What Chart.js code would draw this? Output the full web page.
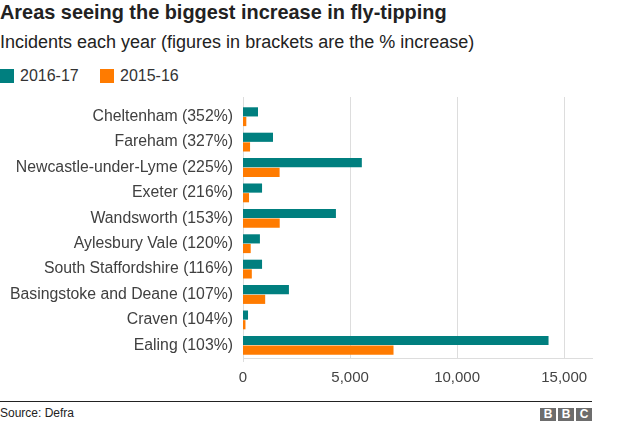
<!DOCTYPE html>
<html>
<head>
<meta charset="utf-8">
<script src="https://cdn.jsdelivr.net/npm/chart.js@4"></script>
<style>
  html, body { margin: 0; padding: 0; background: #fff; }
  body { width: 624px; height: 426px; position: relative; overflow: hidden; font-family: "Liberation Sans", Arial, Helvetica, sans-serif; color: #222; }
  #title { position: absolute; left: 0; top: 1px; font-size: 19.9px; font-weight: bold; color: #222; white-space: nowrap; }
  #subtitle { position: absolute; left: 0; top: 32px; font-size: 18px; color: #222; white-space: nowrap; }
  .leg { position: absolute; top: 67px; font-size: 16px; color: #333; white-space: nowrap; line-height: 18px; }
  .sw { display: inline-block; width: 14px; height: 14px; vertical-align: -2px; margin-right: 6px; }
  #wrap { position: absolute; left: 0; top: 90px; width: 624px; height: 300px; }
  #footline { position: absolute; left: 0; top: 401px; width: 592px; height: 1px; background: #222; }
  #source { position: absolute; left: 0; top: 406px; font-size: 12px; color: #222; }
  .bbc { position: absolute; top: 408px; width: 16px; height: 13px; background: #6d6d6d; color: #fff; font-weight: bold; font-size: 12px; line-height: 13px; text-align: center; }
</style>
</head>
<body>
<div id="title">Areas seeing the biggest increase in fly-tipping</div>
<div id="subtitle">Incidents each year (figures in brackets are the % increase)</div>
<div class="leg" style="left:0px"><span class="sw" style="background:#007f7f"></span>2016-17</div>
<div class="leg" style="left:100px"><span class="sw" style="background:#ff7b00"></span>2015-16</div>
<div id="wrap"><canvas id="c"></canvas></div>
<div id="footline"></div>
<div id="source">Source: Defra</div>
<div class="bbc" style="left:540px">B</div>
<div class="bbc" style="left:558px">B</div>
<div class="bbc" style="left:576px">C</div>
<script>
const categories = [
  "Cheltenham (352%)",
  "Fareham (327%)",
  "Newcastle-under-Lyme (225%)",
  "Exeter (216%)",
  "Wandsworth (153%)",
  "Aylesbury Vale (120%)",
  "South Staffordshire (116%)",
  "Basingstoke and Deane (107%)",
  "Craven (104%)",
  "Ealing (103%)"
];
const values2016_17 = [700, 1400, 5550, 890, 4340, 790, 890, 2145, 235, 14270];
const values2015_16 = [155, 330, 1710, 282, 1715, 360, 412, 1036, 115, 7030];
const xTicks = [0, 5000, 10000, 15000];

const gridTopPlugin = {
  id: 'gridTop',
  beforeDatasetsDraw(chart) {
    const ctx = chart.ctx;
    const xs = chart.scales.x;
    const top = 7; // extend grid lines above chart area
    ctx.save();
    ctx.strokeStyle = '#dddddd';
    ctx.lineWidth = 1;
    xTicks.forEach(v => {
      const px = Math.round(xs.getPixelForValue(v)) + 0.5;
      ctx.beginPath();
      ctx.moveTo(px, top);
      ctx.lineTo(px, chart.chartArea.bottom + (v === 0 ? 4 : 0));
      ctx.stroke();
    });
    ctx.restore();
  }
};

new Chart(document.getElementById('c'), {
  type: 'bar',
  data: {
    labels: categories,
    datasets: [
      { label: '2016-17', data: values2016_17, backgroundColor: '#007f7f', categoryPercentage: 0.76, barPercentage: 0.95 },
      { label: '2015-16', data: values2015_16, backgroundColor: '#ff7b00', categoryPercentage: 0.76, barPercentage: 0.95 }
    ]
  },
  options: {
    indexAxis: 'y',
    responsive: true,
    maintainAspectRatio: false,
    animation: false,
    layout: { padding: { top: 14, right: 32, left: 0, bottom: 0 } },
    plugins: { legend: { display: false }, tooltip: { enabled: false } },
    scales: {
      x: {
        min: 0,
        max: 16300,
        afterBuildTicks(scale) { scale.ticks = xTicks.map(v => ({ value: v })); },
        afterFit(scale) { scale.height = 32; },
        grid: { display: false, drawTicks: false },
        border: { display: true, color: '#dddddd', width: 1 },
        ticks: {
          color: '#444',
          padding: 11,
          font: { family: 'Liberation Sans', size: 15 },
          callback: v => v.toLocaleString('en-GB')
        }
      },
      y: {
        afterFit(scale) { scale.width = 243; scale.paddingTop = 0; scale.paddingBottom = 0; },
        grid: { display: false, drawTicks: false },
        border: { display: false },
        ticks: {
          color: '#404040',
          padding: 10,
          font: { family: 'Liberation Sans', size: 15.8 }
        }
      }
    }
  },
  plugins: [gridTopPlugin]
});
</script>
</body>
</html>
